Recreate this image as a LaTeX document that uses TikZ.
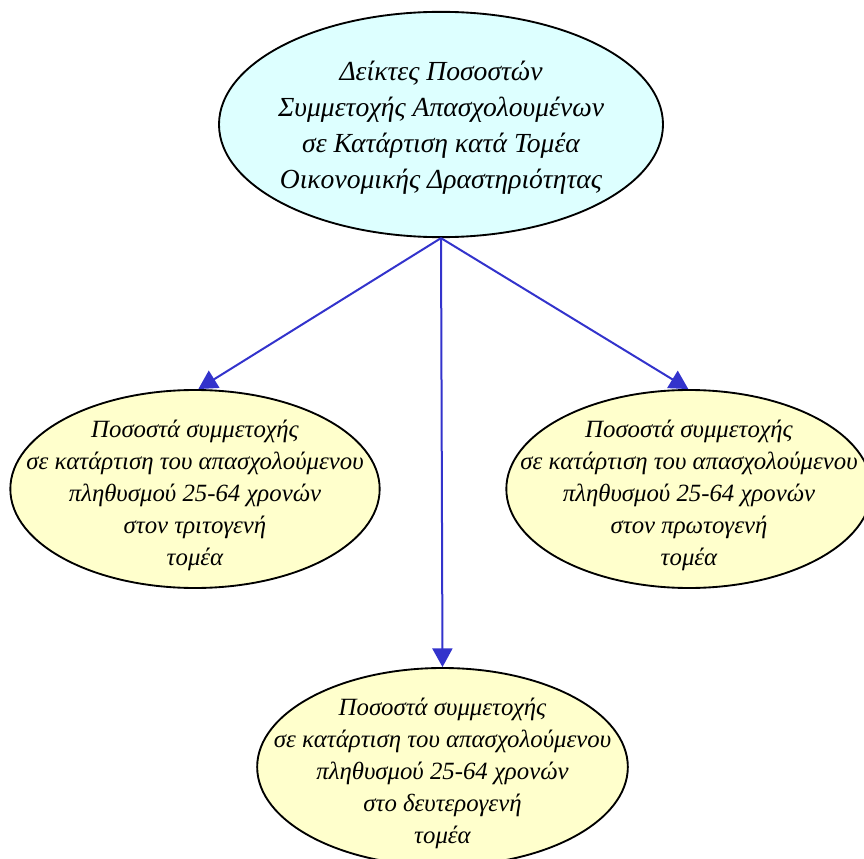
\documentclass[tikz,border=0pt]{standalone}
\usepackage{fontspec}
\setmainfont{Liberation Serif}
\usetikzlibrary{shapes.geometric,arrows.meta}

\definecolor{topfill}{RGB}{221,255,255}
\definecolor{leaffill}{RGB}{255,255,204}
\definecolor{linkblue}{RGB}{51,51,204}

\tikzset{
  bubble/.style={ellipse, draw=black, line width=1.4pt, inner sep=0pt},
  toptext/.style={align=center, inner sep=0pt, font=\fontsize{20.7}{27}\selectfont\itshape},
  leaftext/.style={align=center, inner sep=0pt, font=\fontsize{18.6}{24}\selectfont\itshape},
  link/.style={draw=linkblue, line width=1.5pt, -{Triangle[length=14pt,width=15pt]}}
}

\begin{document}
\begin{tikzpicture}[x=0.75pt,y=0.75pt,yscale=-1,xscale=1]
    %set diagram to the 864 x 859 frame
    \useasboundingbox (0,0) rectangle (864,859);
    \clip (0,0) rectangle (864,859);

    %Shape: Ellipse [top]
    \node [bubble, fill=topfill, minimum width=333pt, minimum height=169pt] (indices) at (441,124.5) {};
    %Shape: Ellipse [left]
    \node [bubble, fill=leaffill, minimum width=277pt, minimum height=148.5pt] (tertiary) at (195,489) {};
    %Shape: Ellipse [right]
    \node [bubble, fill=leaffill, minimum width=274pt, minimum height=148.5pt] (primary) at (689,489) {};
    %Shape: Ellipse [bottom]
    \node [bubble, fill=leaffill, minimum width=278pt, minimum height=148.5pt] (secondary) at (442.5,767) {};

    % Text Node
    \node [toptext] (indices text) at (441,128)
      {Δείκτες Ποσοστών\\Συμμετοχής Απασχολουμένων\\σε Κατάρτιση κατά Τομέα\\Οικονομικής Δραστηριότητας};
    % Text Node
    \node [leaftext] (tertiary text) at (195,495)
      {Ποσοστά συμμετοχής\\σε κατάρτιση του απασχολούμενου\\πληθυσμού 25-64 χρονών\\στον τριτογενή\\τομέα};
    % Text Node
    \node [leaftext] (primary text) at (689,495)
      {Ποσοστά συμμετοχής\\σε κατάρτιση του απασχολούμενου\\πληθυσμού 25-64 χρονών\\στον πρωτογενή\\τομέα};
    % Text Node
    \node [leaftext] (secondary text) at (442.5,773)
      {Ποσοστά συμμετοχής\\σε κατάρτιση του απασχολούμενου\\πληθυσμού 25-64 χρονών\\στο δευτερογενή\\τομέα};

    %Straight Lines [arrows]
    \draw [link] (indices.south) -- ([xshift=2.5pt]tertiary.north);
    \draw [link] (indices.south) -- ([xshift=-0.5pt]primary.north);
    \draw [link] (indices.south) -- (secondary.north);
\end{tikzpicture}
\end{document}
